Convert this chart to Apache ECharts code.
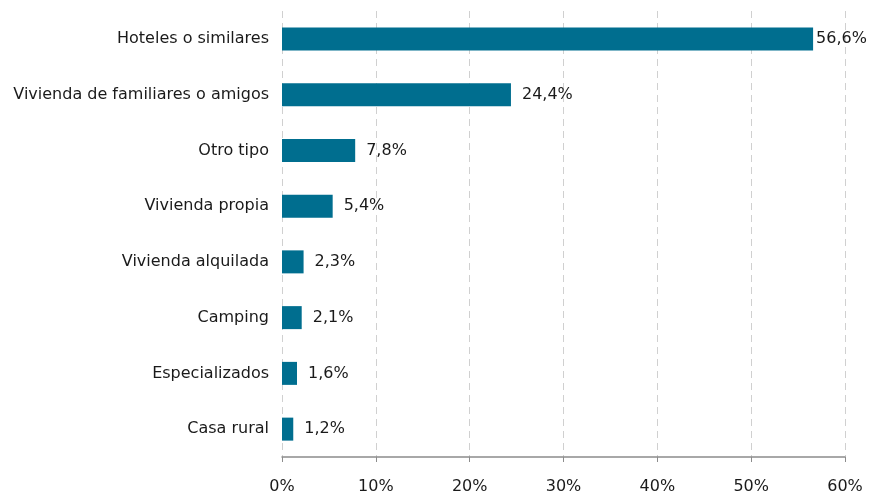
<!DOCTYPE html>
<html>
<head>
<meta charset="utf-8">
<script src="https://cdn.jsdelivr.net/npm/echarts@6/dist/echarts.min.js"></script>
<style>
  html, body { margin: 0; padding: 0; background: #fff; }
  #chart { width: 879px; height: 495px; }
</style>
</head>
<body>
<div id="chart"></div>
<script>
// categories top to bottom
const categories = [
  'Hoteles o similares',
  'Vivienda de familiares o amigos',
  'Otro tipo',
  'Vivienda propia',
  'Vivienda alquilada',
  'Camping',
  'Especializados',
  'Casa rural'
];
const values = [56.6, 24.4, 7.8, 5.4, 2.3, 2.1, 1.6, 1.2];
const xTicks = [0, 10, 20, 30, 40, 50, 60];

const chart = echarts.init(document.getElementById('chart'));
const font = 'DejaVu Sans';

let option = {
  animation: false,
  grid: { left: 282, right: 34, top: 11, bottom: 37 },
  xAxis: {
    type: 'value',
    min: xTicks[0],
    max: xTicks[xTicks.length - 1],
    interval: 10,
    axisLine: { show: true, lineStyle: { color: '#8c8c8c', width: 1.5 } },
    axisTick: { show: true, length: 5, lineStyle: { color: '#8c8c8c' } },
    axisLabel: {
      margin: 22,
      color: '#1a1a1a',
      fontFamily: font,
      fontSize: 16,
      formatter: v => v + '%'
    },
    splitLine: { show: true, lineStyle: { color: '#d0d0d0', type: [7, 5], width: 1 } }
  },
  yAxis: {
    type: 'category',
    inverse: true,
    data: categories,
    axisLine: { show: false },
    axisTick: { show: false },
    axisLabel: { margin: 13, color: '#1a1a1a', fontFamily: font, fontSize: 16 }
  },
  series: [{
    type: 'bar',
    barWidth: 23,
    data: values.map((v, i) => i === 0 ? { value: v, label: { distance: 3 } } : v),
    itemStyle: { color: '#006e8f' },
    label: {
      show: true,
      position: 'right',
      distance: 11,
      color: '#1a1a1a',
      fontFamily: font,
      fontSize: 16,
      formatter: p => p.value.toFixed(1).replace('.', ',') + '%'
    }
  }]
};
chart.setOption(option);
</script>
</body>
</html>
